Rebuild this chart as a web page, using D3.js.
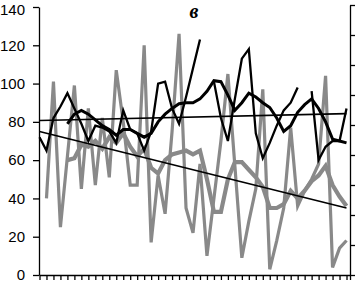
<!DOCTYPE html>
<html>
<head>
<meta charset="utf-8">
<script src="https://cdn.jsdelivr.net/npm/d3@7"></script>
<style>
  body { margin: 0; background: #fff; }
  svg { display: block; }
  .axis text { font-family: "Liberation Sans", Arial, sans-serif; font-size: 15px; fill: #000; }
  .axis path, .axis line { stroke: #000; stroke-width: 1.3; }
</style>
</head>
<body>
<div id="chart"></div>
<script>
// years on the category axis (labels are not shown)
const years = d3.range(1966, 2011)

// gray series: yearly values and running mean
const grayRaw = [null, 40, 101, 25, 62, 99, 45, 87, 47, 82, 51, 107, 80, 47, 47, 120, 17, 52, 32, 75,
  126, 35, 22, 58, 10, 40, 70, 105, 57, 9, 28, 45, 97, 3, 18, 35, 77, 36, 44, 50, 58, 104, 4, 14, 18]
const graySmooth = [null, null, null, null, 60, 61, 68, 67, 70, 66, 72, 69, 74, 67, 62, 66, 56, 53, 60, 63,
  64, 65, 63, 65, 50, 33, 33, 50, 59, 59, 55, 51, 46, 35, 35, 37, 44, 40, 44, 49, 52, 57, 47, 41, 36]

// black series: yearly values (gaps = missing years) and running mean
const blackRaw = [72, 65, 82, 88, 95, 87, 79, 70, 78, 77, 75, 69, 86, 76, 74, 65, 75, 100, 101, 87,
  79, 93, 108, 123, null, 101, 82, 70, 92, 113, 118, 74, 61, 69, 78, 86, 90, 98, null, 96, 60, 67, 70, 70, 87]
const blackSmooth = [null, null, null, null, 79, 84, 86, 84, 81, 78, 76, 73, 76, 76, 74, 72, 74, 80, 84, 87,
  89.5, 90, 90, 92, 96, 101.5, 101, 94, 86, 90, 95, 93, 90, 87.5, 82, 75, 78, 85, 89, 92, 87, 80, 71, 70, 69]

// linear trends, value at first and last year
const blackTrend = [80.7, 84.3]
const grayTrend = [75, 35]

const leftTicks = [0, 20, 40, 60, 80, 100, 120, 140]
const title = "в"

const width = 355
const height = 282
const margin = {top: 7, right: 5, bottom: 7, left: 39}
const plotRight = width - margin.right
const plotBottom = height - margin.bottom

const svg = d3.select("#chart").append("svg")
    .attr("width", width)
    .attr("height", height)

const x = d3.scaleLinear()
    .domain([0, years.length - 0.5])
    .range([margin.left + 0.5, plotRight])

const y = d3.scaleLinear()
    .domain([0, 140])
    .range([plotBottom, margin.top])

// secondary axis on the right (its labels fall outside the picture)
const yRight = d3.scaleLinear()
    .domain([0, 9])
    .range([plotBottom, margin.top - 2])

// lines
const line = d3.line()
    .defined(d => d != null)
    .x((d, i) => x(i))
    .y(d => y(d))

const series = [
  {data: grayRaw, color: "#898989", w: 3.2},
  {data: graySmooth, color: "#898989", w: 4.2},
  {data: blackRaw, color: "#000", w: 2.3},
  {data: blackSmooth, color: "#000", w: 3}
]

svg.selectAll(".series")
  .data(series)
  .join("path")
    .attr("class", "series")
    .attr("fill", "none")
    .attr("stroke", d => d.color)
    .attr("stroke-width", d => d.w)
    .attr("stroke-linejoin", "miter")
    .attr("d", d => line(d.data))

// trend lines
const trends = [blackTrend, grayTrend]
svg.selectAll(".trend")
  .data(trends)
  .join("line")
    .attr("class", "trend")
    .attr("x1", x(0))
    .attr("x2", x(years.length - 1))
    .attr("y1", d => y(d[0]))
    .attr("y2", d => y(d[1]))
    .attr("stroke", "#000")
    .attr("stroke-width", 1.6)

// axes
const yAxisG = svg.append("g")
    .attr("class", "axis")
    .attr("transform", `translate(${margin.left},0)`)
    .call(d3.axisLeft(y).tickValues(leftTicks).tickSize(6).tickSizeOuter(0).tickPadding(8))

// keep the top label inside the picture
yAxisG.selectAll(".tick text")
    .filter(d => d === 140)
    .attr("dy", "0.5em")

svg.append("g")
    .attr("class", "axis")
    .attr("transform", `translate(0,${plotBottom})`)
    .call(d3.axisBottom(x).tickValues(d3.range(years.length).concat([years.length - 0.5]))
        .tickSize(5).tickSizeOuter(0).tickFormat(""))

svg.append("g")
    .attr("class", "axis")
    .attr("transform", `translate(${plotRight},0)`)
    .call(d3.axisRight(yRight).ticks(9).tickSize(6).tickSizeOuter(0).tickFormat(""))

// panel letter
svg.append("text")
    .attr("x", 194)
    .attr("y", 18)
    .attr("text-anchor", "middle")
    .style("font-family", "'Liberation Serif', 'DejaVu Serif', serif")
    .style("font-style", "italic")
    .style("font-weight", "bold")
    .style("font-size", "20px")
    .text(title)
</script>
</body>
</html>
